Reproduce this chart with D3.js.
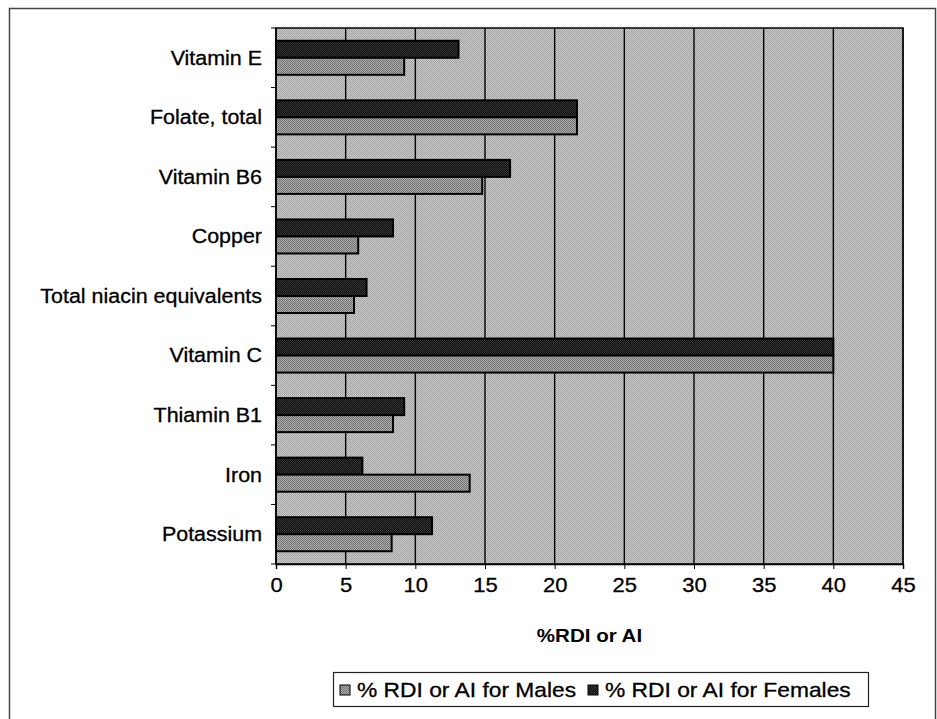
<!DOCTYPE html>
<html>
<head>
<meta charset="utf-8">
<script src="https://cdn.jsdelivr.net/npm/d3@7"></script>
<style>
  html, body { margin: 0; padding: 0; background: #fff; }
  svg { display: block; font-family: "Liberation Sans", Arial, sans-serif; }
</style>
</head>
<body>
<svg id="chart" width="937" height="719"></svg>
<script>
// ---- data (top to bottom as shown) ----
const categories = ["Vitamin E", "Folate, total", "Vitamin B6", "Copper", "Total niacin equivalents", "Vitamin C", "Thiamin B1", "Iron", "Potassium"];
const malesValues = [9.2, 21.6, 14.8, 5.9, 5.6, 40, 8.4, 13.9, 8.3];
const femalesValues = [13.1, 21.6, 16.8, 8.4, 6.5, 40, 9.2, 6.2, 11.2];
const xTicks = [0, 5, 10, 15, 20, 25, 30, 35, 40, 45];
const seriesNames = ["% RDI or AI for Males", "% RDI or AI for Females"];
const axisTitle = "%RDI or AI";

(function () {
const SX = 1.1; // horizontal stretch of the scanned lettering
const FS = 19.5;
const svg = d3.select("#chart");
const defs = svg.append("defs");

function dither(id, c1, c2) {
  const p = defs.append("pattern").attr("id", id).attr("patternUnits", "userSpaceOnUse")
    .attr("width", 2).attr("height", 2);
  p.append("rect").attr("width", 2).attr("height", 2).attr("fill", c1);
  p.append("rect").attr("width", 1).attr("height", 1).attr("fill", c2);
  p.append("rect").attr("x", 1).attr("y", 1).attr("width", 1).attr("height", 1).attr("fill", c2);
}
dither("bgPat", "#cdcdcd", "#a0a0a0");
dither("malePat", "#adadad", "#727272");
dither("femalePat", "#0c0c0c", "#383838");

// outer frame
svg.append("rect").attr("x", 9.5).attr("y", 8.5).attr("width", 926).attr("height", 730)
  .attr("fill", "none").attr("stroke", "#444").attr("stroke-width", 1.5);

const pL = 276, pR = 903, pT = 28, pB = 564;
const x = d3.scaleLinear().domain([0, 45]).range([pL, pR]);
const y = d3.scaleBand().domain(categories).range([pT, pB]).padding(0);
const bw = y.step() / 3.5;

// plot background
svg.append("rect").attr("x", pL).attr("y", pT).attr("width", pR - pL).attr("height", pB - pT)
  .attr("fill", "url(#bgPat)");

// gridlines
svg.append("g").selectAll("line").data(xTicks.slice(1)).join("line")
  .attr("x1", d => x(d)).attr("x2", d => x(d)).attr("y1", pT).attr("y2", pB)
  .attr("stroke", "#000").attr("stroke-width", 1.4);

// plot border
svg.append("rect").attr("x", pL).attr("y", pT).attr("width", pR - pL).attr("height", pB - pT)
  .attr("fill", "none").attr("stroke", "#111").attr("stroke-width", 1.6);

// bars
const g = svg.append("g");
g.selectAll(".fem").data(categories).join("rect").attr("class", "fem")
  .attr("x", x(0)).attr("y", d => y(d) + 0.75 * bw)
  .attr("width", (d, i) => x(femalesValues[i]) - x(0)).attr("height", bw)
  .attr("fill", "url(#femalePat)").attr("stroke", "#000").attr("stroke-width", 2);
g.selectAll(".mal").data(categories).join("rect").attr("class", "mal")
  .attr("x", x(0)).attr("y", d => y(d) + 1.75 * bw)
  .attr("width", (d, i) => x(malesValues[i]) - x(0)).attr("height", bw)
  .attr("fill", "url(#malePat)").attr("stroke", "#000").attr("stroke-width", 2);

// x axis
const xAxis = svg.append("g").attr("transform", `translate(0,${pB})`)
  .call(d3.axisBottom(x).tickValues(xTicks).tickSize(5).tickPadding(9));
xAxis.select(".domain").attr("stroke", "#000").attr("stroke-width", 1.5);
xAxis.selectAll(".tick line").attr("stroke", "#000");
xAxis.selectAll("text").attr("font-size", FS + 0.5).attr("fill", "#000")
  .attr("font-family", "Liberation Sans, Arial, sans-serif")
  .attr("stroke", "#000").attr("stroke-width", 0.3)
  .attr("transform", `scale(${SX},1)`);

// y axis (ticks at category boundaries)
const yAxis = svg.append("g").attr("transform", `translate(${pL},0)`);
yAxis.append("line").attr("x1", 0).attr("x2", 0).attr("y1", pT).attr("y2", pB).attr("stroke", "#000").attr("stroke-width", 1.5);
yAxis.selectAll(".tk").data(categories.concat(["_end"])).join("line").attr("class", "tk")
  .attr("x1", -5).attr("x2", 0)
  .attr("y1", (d, i) => i < categories.length ? y(d) : pB)
  .attr("y2", (d, i) => i < categories.length ? y(d) : pB)
  .attr("stroke", "#000");
yAxis.selectAll("text").data(categories).join("text")
  .attr("transform", d => `translate(-14,${y(d) + y.bandwidth() / 2}) scale(${SX},1)`)
  .attr("dy", "0.35em").attr("text-anchor", "end").attr("font-size", FS).attr("fill", "#000")
  .attr("stroke", "#000").attr("stroke-width", 0.3)
  .text(d => d);

// axis title
svg.append("text").attr("transform", `translate(${(pL + pR) / 2},642) scale(1.14,1)`)
  .attr("text-anchor", "middle")
  .attr("font-size", 18).attr("font-weight", "bold").text(axisTitle);

// legend
const lg = svg.append("g");
lg.append("rect").attr("x", 333.5).attr("y", 672.5).attr("width", 535).attr("height", 34)
  .attr("fill", "#fff").attr("stroke", "#222").attr("stroke-width", 1.2);
const legendItems = [{name: seriesNames[0], fill: "url(#malePat)", x: 340}, {name: seriesNames[1], fill: "url(#femalePat)", x: 588}];
lg.selectAll(".sw").data(legendItems).join("rect").attr("class", "sw")
  .attr("x", d => d.x).attr("y", 685).attr("width", 10).attr("height", 10)
  .attr("fill", d => d.fill).attr("stroke", "#000").attr("stroke-width", 1);
lg.selectAll("text").data(legendItems).join("text")
  .attr("transform", d => `translate(${d.x + 17},690) scale(1.14,1)`)
  .attr("dy", "0.35em").attr("font-size", 20)
  .attr("stroke", "#000").attr("stroke-width", 0.3)
  .text(d => d.name);
})();
</script>
</body>
</html>
